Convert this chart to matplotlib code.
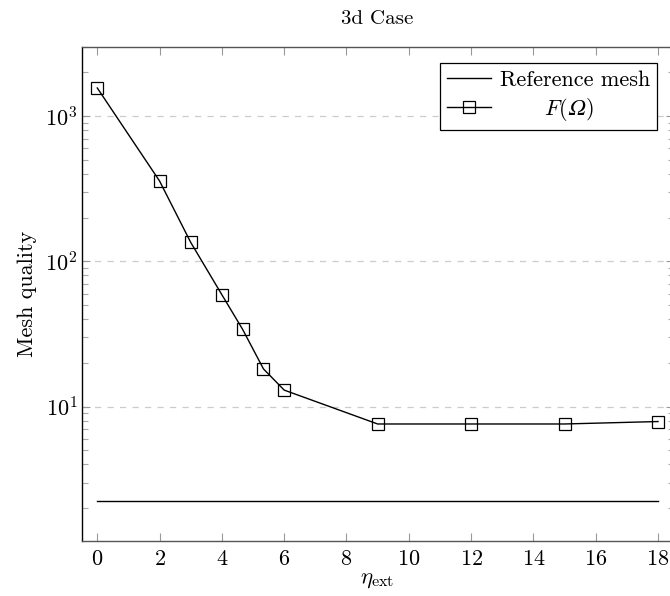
import matplotlib
matplotlib.use("Agg")
import matplotlib.pyplot as plt
from matplotlib.ticker import LogLocator, FixedLocator, NullFormatter

plt.rcParams['font.family'] = ['cmr10', 'DejaVu Serif']
plt.rcParams['mathtext.fontset'] = 'cm'
plt.rcParams['axes.formatter.use_mathtext'] = True

# data
eta = [0, 2, 3, 4, 14/3, 16/3, 6, 9, 12, 15, 18]
quality = [1560, 357, 135, 58.9, 34.0, 18.2, 13.0, 7.6, 7.6, 7.6, 7.9]
ref_x = [0, 18]
ref_y = [2.25, 2.25]
xticks = [0, 2, 4, 6, 8, 10, 12, 14, 16, 18]

fig = plt.figure(figsize=(6.70, 5.96), dpi=100)
ax = fig.add_axes([81.7/670, 55/596, (673.6-81.7)/670, (541-46.7)/596])

ax.plot(ref_x, ref_y, color='black', lw=1.0, label='Reference mesh')
ax.plot(eta, quality, color='black', lw=1.0, marker='s', markersize=8.2,
        markerfacecolor='none', markeredgecolor='black', markeredgewidth=0.9,
        label='      $F(\U0001D6FA)$')

ax.set_yscale('log')
ax.set_xlim(-0.5, 18.5)
ax.set_ylim(1.19, 3000)
ax.xaxis.set_major_locator(FixedLocator(xticks))
ax.yaxis.set_major_locator(LogLocator(base=10, numticks=10))
ax.yaxis.set_minor_locator(LogLocator(base=10, subs=range(2, 10), numticks=10))
ax.yaxis.set_minor_formatter(NullFormatter())

ax.grid(axis='y', which='major', color='#cccccc', linestyle=(0, (5, 5)), lw=0.9)
ax.tick_params(axis='both', which='major', direction='in', top=True, right=True,
               color='#999999', length=6, width=0.8, labelsize=16, pad=6)
ax.tick_params(axis='y', which='major', pad=3)
ax.tick_params(axis='y', which='minor', direction='in', right=True, left=True,
               color='#aaaaaa', length=4.5, width=0.8)

for side in ['top', 'right', 'bottom']:
    ax.spines[side].set_color('#555555')
ax.spines['left'].set_color('black')
for s in ax.spines.values():
    s.set_linewidth(1.0)

ax.set_xlabel('$\\eta_{\\mathrm{ext}}$', fontsize=16.5, labelpad=1)
ax.set_ylabel('Mesh quality', fontsize=16, labelpad=6)
ax.set_title('3d Case', fontsize=15, pad=16)

leg = ax.legend(loc='upper right', fontsize=16, frameon=True, fancybox=False,
                edgecolor='black', framealpha=1, borderaxespad=0.75,
                handlelength=2.0, labelspacing=0.3, borderpad=0.3, handletextpad=0.4)
leg.get_frame().set_linewidth(0.9)

fig.savefig('out.png', dpi=100)
